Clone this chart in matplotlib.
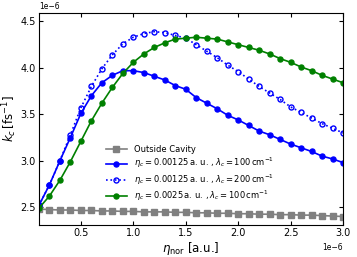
import numpy as np
import matplotlib
matplotlib.use("Agg")
import matplotlib.pyplot as plt

eta_nor = np.arange(1, 31) * 0.1e-6

outside = [2.48, 2.475, 2.47, 2.47, 2.465, 2.465, 2.46, 2.46, 2.455, 2.455,
           2.45, 2.45, 2.45, 2.445, 2.445, 2.44, 2.44, 2.435, 2.435, 2.43,
           2.43, 2.425, 2.425, 2.42, 2.42, 2.415, 2.415, 2.41, 2.405, 2.40]
eta1_lam100 = [2.52, 2.74, 3.00, 3.25, 3.51, 3.70, 3.84, 3.92, 3.97, 3.97,
               3.95, 3.91, 3.87, 3.81, 3.77, 3.68, 3.62, 3.56, 3.49, 3.44,
               3.38, 3.32, 3.28, 3.23, 3.18, 3.14, 3.10, 3.05, 3.02, 2.98]
eta1_lam200 = [2.52, 2.74, 3.00, 3.28, 3.57, 3.80, 3.99, 4.14, 4.26, 4.33,
               4.37, 4.39, 4.38, 4.35, 4.32, 4.25, 4.18, 4.11, 4.03, 3.96,
               3.88, 3.80, 3.73, 3.66, 3.58, 3.52, 3.46, 3.40, 3.35, 3.30]
eta2_lam100 = [2.49, 2.62, 2.79, 2.99, 3.21, 3.43, 3.62, 3.79, 3.94, 4.06,
               4.15, 4.22, 4.27, 4.31, 4.32, 4.33, 4.32, 4.31, 4.28, 4.25,
               4.22, 4.19, 4.15, 4.10, 4.06, 4.01, 3.97, 3.92, 3.88, 3.84]

fig = plt.figure(figsize=(3.57, 2.57), dpi=100)
ax = fig.add_axes([0.109, 0.125, 0.852, 0.824])

ax.plot(eta_nor, np.array(outside) * 1e-6, "s-", color="gray", ms=3.8, lw=1.2,
        label="Outside Cavity")
ax.plot(eta_nor, np.array(eta1_lam100) * 1e-6, "o-", color="blue", ms=3.6, lw=1.2,
        label=r"$\eta_c = 0.00125\,\mathrm{a.\,u.}\,,\lambda_c = 100\,\mathrm{cm}^{-1}$")
ax.plot(eta_nor, np.array(eta1_lam200) * 1e-6, "o:", color="blue", ms=3.6, lw=1.2,
        mfc="none", label=r"$\eta_c = 0.00125\,\mathrm{a.\,u.}\,,\lambda_c = 200\,\mathrm{cm}^{-1}$")
ax.plot(eta_nor, np.array(eta2_lam100) * 1e-6, "o-", color="green", ms=3.6, lw=1.2,
        label=r"$\eta_c = 0.0025\,\mathrm{a.\,u.}\,,\lambda_c = 100\,\mathrm{cm}^{-1}$")

ax.set_xlim(0.1e-6, 3.0e-6)
ax.set_ylim(2.31e-6, 4.59e-6)
ax.set_xticks([0.5e-6, 1.0e-6, 1.5e-6, 2.0e-6, 2.5e-6, 3.0e-6])
ax.set_yticks([2.5e-6, 3.0e-6, 3.5e-6, 4.0e-6, 4.5e-6])
ax.tick_params(direction="in", top=True, right=True, labelsize=7, length=3, pad=2.5)
ax.xaxis.get_offset_text().set_fontsize(5.5)
ax.yaxis.get_offset_text().set_fontsize(5.5)
ax.set_xlabel(r"$\eta_{\mathrm{nor}}$ [a.u.]", fontsize=8.5, labelpad=1)
ax.set_ylabel(r"$k_c\,[\mathrm{fs}^{-1}]$", fontsize=8.5, labelpad=1)

ax.legend(loc="upper left", bbox_to_anchor=(0.2, 0.405), frameon=False,
          fontsize=6, handlelength=2.6, handletextpad=0.8, labelspacing=0.25,
          borderpad=0.2)

fig.savefig("out.png", dpi=100)
